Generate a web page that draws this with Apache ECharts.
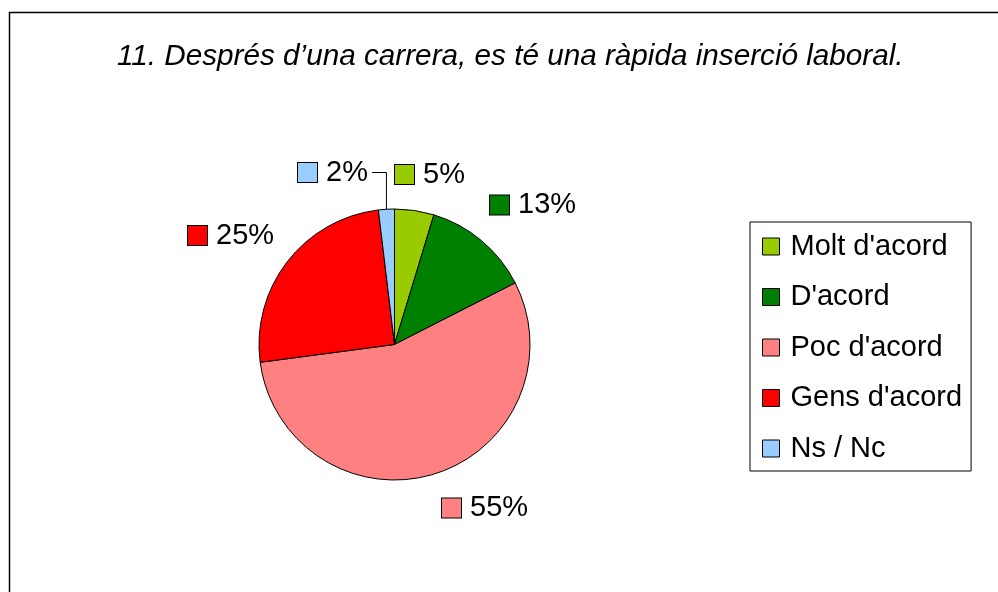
<!DOCTYPE html>
<html>
<head>
<meta charset="utf-8">
<script src="https://cdn.jsdelivr.net/npm/echarts@6/dist/echarts.min.js"></script>
<style>
html,body{margin:0;padding:0;background:#fff;}
#chart{width:998px;height:592px;}
</style>
</head>
<body>
<div id="chart"></div>
<script>
const titleText = "11. Després d’una carrera, es té una ràpida inserció laboral.";
const categories = ["Molt d'acord", "D'acord", "Poc d'acord", "Gens d'acord", "Ns / Nc"];
const values = [4.7, 12.8, 55.4, 25.2, 1.9];
const colors = ['#99CC00', '#008000', '#FF8080', '#FF0000', '#99CCFF'];
// label anchor (left x, middle y) for each slice label
const labelPos = [[395, 174.5], [490, 205], [442, 508], [188, 235.5], [298, 172.5]];

const FONT = 'Liberation Sans, Arial, sans-serif';
const chart = echarts.init(document.getElementById('chart'), null, {renderer: 'canvas'});

const rich = { t: { fontSize: 29, fontFamily: FONT, color: '#000', padding: [0, 0, 0, 9] } };
colors.forEach((c, i) => {
  rich['s' + i] = { width: 19, height: 19, backgroundColor: c, borderColor: '#000', borderWidth: 1 };
});

chart.setOption({
  animation: false,
  backgroundColor: '#fff',
  graphic: [{
    type: 'rect', left: 7, top: 10, z: -1,
    shape: { width: 1010, height: 600 },
    style: { fill: 'none', stroke: '#000', lineWidth: 1.5 }
  }],
  title: {
    text: titleText,
    left: 112, top: 37,
    textStyle: { fontSize: 29.7, fontStyle: 'italic', fontWeight: 'normal', fontFamily: FONT, color: '#000' }
  },
  legend: {
    orient: 'vertical',
    left: 750, top: 222,
    padding: [10, 9, 8, 12],
    itemGap: 21.5,
    itemWidth: 17, itemHeight: 17,
    icon: 'rect',
    borderColor: '#000', borderWidth: 1,
    itemStyle: { borderColor: '#000', borderWidth: 1 },
    textStyle: { fontSize: 29, fontFamily: FONT, color: '#000', padding: [0, 0, 0, 6] },
    data: categories
  },
  series: [{
    type: 'pie',
    center: [394.5, 344.5],
    radius: 135.5,
    startAngle: 90,
    clockwise: true,
    itemStyle: { borderColor: '#000', borderWidth: 1 },
    emphasis: { disabled: true },
    label: {
      show: true,
      position: 'outside',
      formatter: p => '{s' + p.dataIndex + '|}{t|' + Math.round(p.percent) + '%}',
      rich: rich
    },
    labelLine: { show: false },
    labelLayout: p => {
      const pos = labelPos[p.dataIndex];
      const out = { x: pos[0], y: pos[1], align: 'left', verticalAlign: 'middle' };
      if (p.dataIndex === 4) {
        const sx = pos[0] + p.labelRect.width + 3;
        const mx = p.rect.x + p.rect.width / 2;
        out.labelLinePoints = [[sx, pos[1]], [mx, pos[1]], [mx, p.rect.y + 1]];
      }
      return out;
    },
    data: categories.map((n, i) => ({
      name: n, value: values[i],
      itemStyle: { color: colors[i] },
      labelLine: i === 4 ? { show: true, length: 10, length2: 10, lineStyle: { color: '#000', width: 1 } } : { show: false }
    }))
  }]
});
</script>
</body>
</html>
